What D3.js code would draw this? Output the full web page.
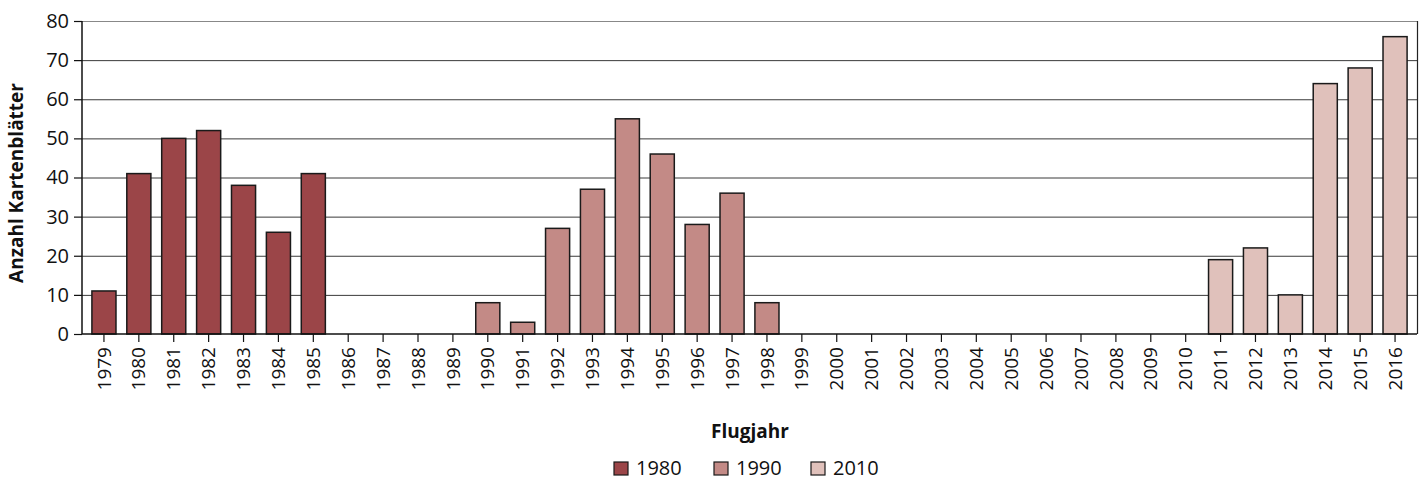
<!DOCTYPE html>
<html><head><meta charset="utf-8">
<script src="https://cdn.jsdelivr.net/npm/d3@7"></script>
<style>body{margin:0;background:#fff}svg{display:block}text{font-family:"Open Sans","Noto Sans",sans-serif}</style>
</head><body>
<svg id="c" width="1422" height="479"></svg>
<script>
const years = d3.range(1979, 2017).map(String);
const seriesNames = ["1980", "1990", "2010"];
const colors = ["#9b4548", "#c38a86", "#e0c1bb"];
const s1980 = {"1979":11,"1980":41,"1981":50,"1982":52,"1983":38,"1984":26,"1985":41};
const s1990 = {"1990":8,"1991":3,"1992":27,"1993":37,"1994":55,"1995":46,"1996":28,"1997":36,"1998":8};
const s2010 = {"2011":19,"2012":22,"2013":10,"2014":64,"2015":68,"2016":76};
const yTicks = [0,10,20,30,40,50,60,70,80];
const seriesData = [s1980, s1990, s2010];

const svg = d3.select("#c");
const L = 82, R = 1417, T = 21, B = 334;
const x = d3.scaleBand().domain(years).range([86.5, 1412.5]).paddingInner(0.31).paddingOuter(0.155);
const y = d3.scaleLinear().domain([0, 80]).range([B, T]);

// grid
svg.append("g").selectAll("line").data(yTicks.filter(d=>d>0)).join("line")
  .attr("x1", L).attr("x2", R).attr("y1", d=>y(d)+0.5).attr("y2", d=>y(d)+0.5)
  .attr("stroke", d=>d===80?"#888":"#3a3a3a").attr("stroke-width", 1);
// right border
svg.append("line").attr("x1", R+0.5).attr("x2", R+0.5).attr("y1", T).attr("y2", B).attr("stroke","#222").attr("stroke-width",1.2);

// bars
seriesData.forEach((s, i) => {
  svg.append("g").selectAll("rect").data(Object.entries(s)).join("rect")
    .attr("x", d=>x(d[0])).attr("width", x.bandwidth())
    .attr("y", d=>y(d[1])).attr("height", d=>B - y(d[1]))
    .attr("fill", colors[i]).attr("stroke", "#1a1a1a").attr("stroke-width", 1.5);
});

// y axis
const ya = svg.append("g").attr("transform", `translate(${L},0)`)
  .call(d3.axisLeft(y).tickValues(yTicks).tickSize(8).tickPadding(5));
ya.select(".domain").attr("stroke","#111").attr("stroke-width",1.5).attr("d", `M0,${T}V${B}`);
ya.selectAll(".tick line").attr("stroke","#111").attr("stroke-width",1.2);
ya.selectAll("text").attr("font-size", 20).attr("fill","#111");

// x axis
const xa = svg.append("g").attr("transform", `translate(0,${B})`)
  .call(d3.axisBottom(x).tickSize(8).tickSizeOuter(0));
xa.select(".domain").attr("stroke","#111").attr("stroke-width",1.5).attr("d", `M${L},0H${R}`);
xa.selectAll(".tick line").attr("stroke","#111").attr("stroke-width",1.2);
xa.selectAll("text").attr("font-size", 19).attr("fill","#111")
  .attr("transform","rotate(-90)").attr("text-anchor","end")
  .attr("x", -13).attr("y", 0).attr("dy", "0.35em");

// titles
svg.append("text").attr("transform","translate(23,183) rotate(-90)").attr("text-anchor","middle")
  .attr("font-size",19).attr("font-weight","bold").attr("fill","#111").text("Anzahl Kartenblätter");
svg.append("text").attr("x",750).attr("y",438).attr("text-anchor","middle")
  .attr("font-size",19).attr("font-weight","bold").attr("fill","#111").text("Flugjahr");

// legend
const lx = [614, 714, 811];
const lg = svg.append("g");
seriesNames.forEach((n,i)=>{
  lg.append("rect").attr("x",lx[i]).attr("y",462).attr("width",14).attr("height",13)
    .attr("fill",colors[i]).attr("stroke","#1a1a1a").attr("stroke-width",1.2);
  lg.append("text").attr("x",lx[i]+22).attr("y",474.5).attr("font-size",20).attr("fill","#111").text(n);
});
</script>
</body></html>
